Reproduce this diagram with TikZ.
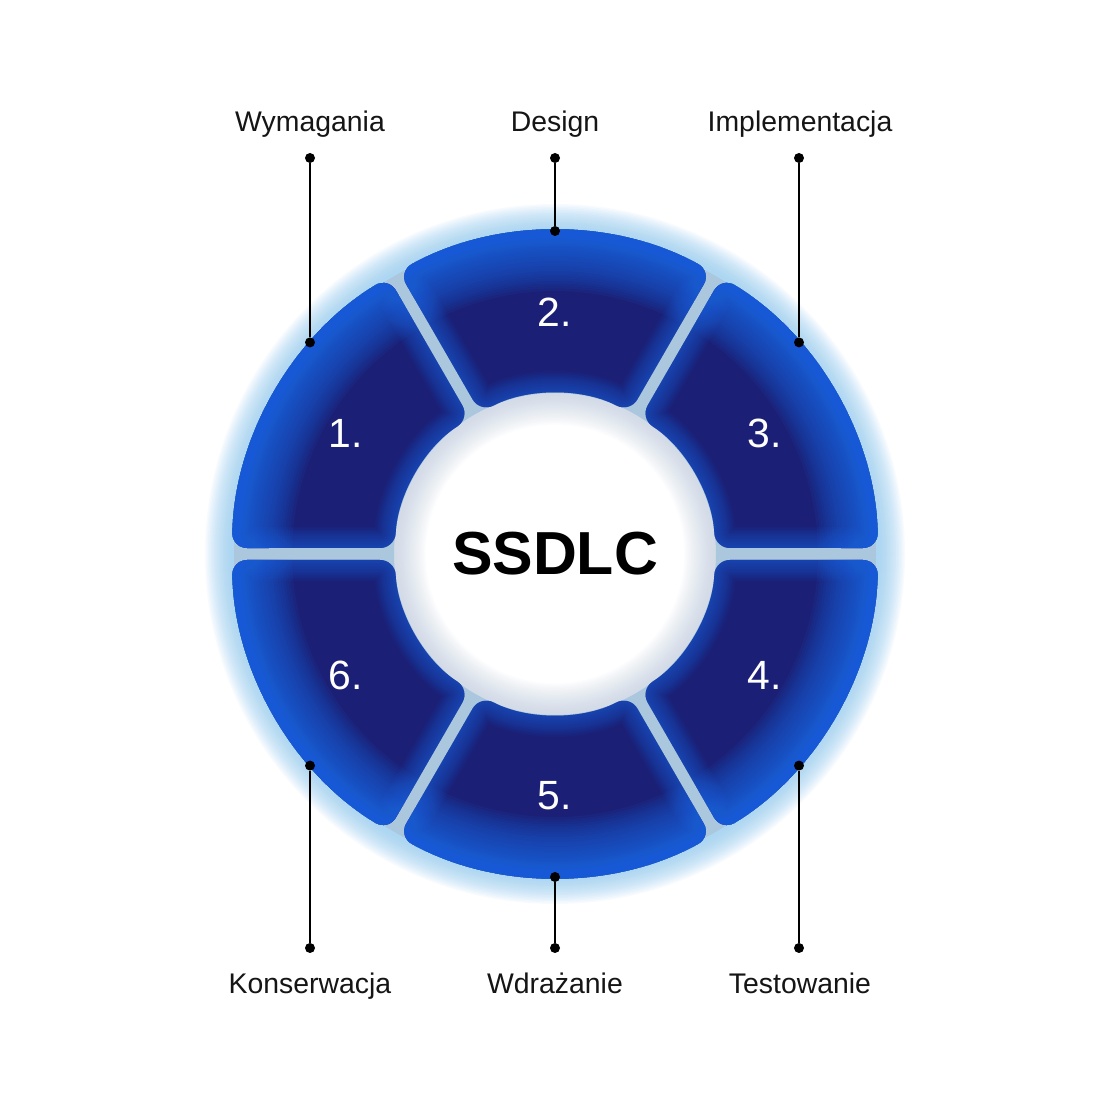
\documentclass[tikz,border=0pt]{standalone}
\usepackage{fontspec}
\setmainfont{Liberation Sans}
\definecolor{navy}{HTML}{1B2076}
\definecolor{bright}{HTML}{176BEA}
\definecolor{glow}{HTML}{95CDF2}
\definecolor{gapc}{HTML}{ABC7DE}
\definecolor{halo}{HTML}{B8C8DC}
\definecolor{ink}{HTML}{151515}
\tikzset{
  numlbl/.style={text=white, font=\fontsize{41}{41}\selectfont, inner sep=0pt},
  phaselbl/.style={text=ink, font=\fontsize{28.5}{30}\selectfont, inner sep=0pt, anchor=base},
  dotnode/.style={circle, fill=black, minimum size=10bp, inner sep=0pt},
  conn/.style={black, line width=2bp}
}
\begin{document}
\begin{tikzpicture}[x=1bp,y=1bp]
\useasboundingbox (0,0) rectangle (1110,1110);
\fill[white] (0,0) rectangle (1110,1110);
\begin{scope}[shift={(555,556)}]
  % outer glow
  \foreach \i in {1,...,18}
    \draw[glow, line width=\i*3 bp, opacity=0.07] (0,0) circle[radius=323];
  % inner halo
  \foreach \i in {1,...,18}
    \draw[halo, line width=\i*3.4 bp, opacity=0.045] (0,0) circle[radius=160];
  % gap fill
  \fill[gapc, even odd rule] (0,0) circle[radius=321] (0,0) circle[radius=161];
  \foreach \t/\n in {150/1,90/2,30/3,-30/4,-90/5,210/6} {
    \pgfmathsetmacro\oa{\t-30+1.064}
    \pgfmathsetmacro\ob{\t+30-1.064}
    \pgfmathsetmacro\ia{\t+30-2.149}
    \pgfmathsetmacro\ib{\t-30+2.149}
    \begin{scope}[rounded corners=15bp]
      \clip (\oa:323) arc[start angle=\oa, end angle=\ob, radius=323] -- (\ia:160) arc[start angle=\ia, end angle=\ib, radius=160] -- cycle;
      \fill[navy] (0,0) circle[radius=340];
      \foreach \i in {1,...,24}
        \draw[bright, line width=\i*5 bp, opacity=0.065] (\oa:323) arc[start angle=\oa, end angle=\ob, radius=323];
      \foreach \i in {1,...,14}
        \draw[bright, line width=\i*3 bp, opacity=0.05] (\oa:323) arc[start angle=\oa, end angle=\ob, radius=323] -- (\ia:160) arc[start angle=\ia, end angle=\ib, radius=160] -- cycle;
    \end{scope}
    \node[numlbl] (n\n) at (\t:242) {\n.};
  }
  \node[font=\bfseries\fontsize{61}{61}\selectfont, text=black, inner sep=0pt] (title) at (0,0) {SSDLC};
\end{scope}
\node[phaselbl] (l1) at (310,978) {Wymagania};
\node[phaselbl] (l2) at (555,978) {Design};
\node[phaselbl] (l3) at (800,978) {Implementacja};
\node[phaselbl] (l6) at (310,116) {Konserwacja};
\node[phaselbl] (l5) at (555,116) {Wdrażanie};
\node[phaselbl] (l4) at (800,116) {Testowanie};
\node[dotnode] (a1) at (310,952) {};
\node[dotnode] (b1) at (310,767.6) {};
\node[dotnode] (a2) at (555,952) {};
\node[dotnode] (b2) at (555,879) {};
\node[dotnode] (a3) at (799,952) {};
\node[dotnode] (b3) at (799,767.6) {};
\node[dotnode] (a6) at (310,162) {};
\node[dotnode] (b6) at (310,344.4) {};
\node[dotnode] (a5) at (555,162) {};
\node[dotnode] (b5) at (555,233) {};
\node[dotnode] (a4) at (799,162) {};
\node[dotnode] (b4) at (799,344.4) {};
\draw[conn] (a1) -- (b1);
\draw[conn] (a2) -- (b2);
\draw[conn] (a3) -- (b3);
\draw[conn] (a6) -- (b6);
\draw[conn] (a5) -- (b5);
\draw[conn] (a4) -- (b4);
\end{tikzpicture}
\end{document}
